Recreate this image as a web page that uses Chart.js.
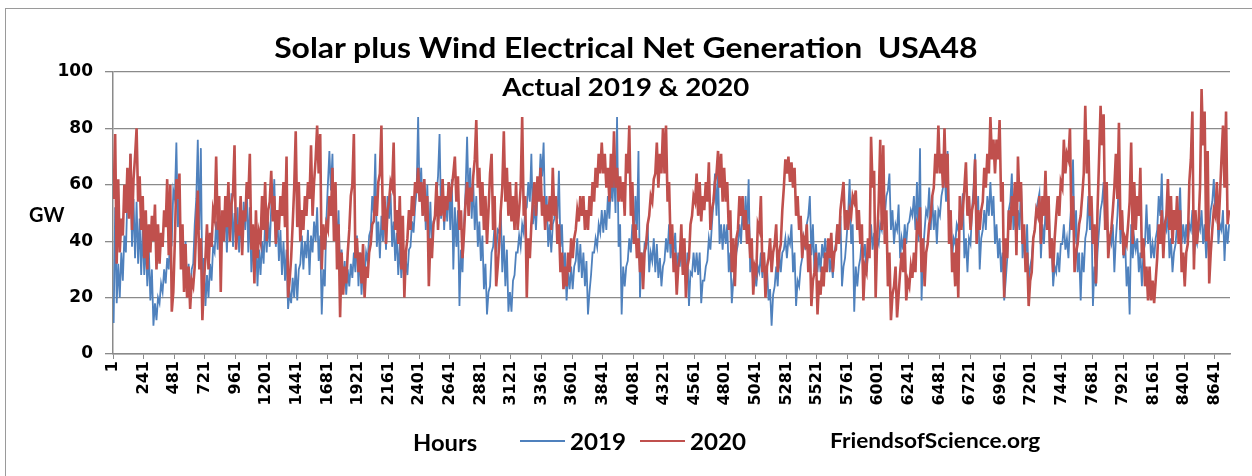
<!DOCTYPE html>
<html>
<head>
<meta charset="utf-8">
<script src="https://cdn.jsdelivr.net/npm/chart.js@4.4.1/dist/chart.umd.min.js"></script>
<style>
  body { margin: 0; background: #fff; }
  #wrap { position: relative; width: 1252px; height: 476px; overflow: hidden; color: #000;
          font-family: Lato, "Open Sans", sans-serif; font-weight: bold; }
  #frame { position: absolute; left: 5px; top: 8px; width: 1260px; height: 480px; border: 1.5px solid #9a9a9a; }
  #chart { position: absolute; left: 0; top: 0; }
  .txt { position: absolute; white-space: nowrap; line-height: 30px; height: 30px; transform-origin: left center; }
  .ctr { left: 0; width: 1252px; text-align: center; transform-origin: 627px center; }
  .swatch { position: absolute; height: 2px; width: 45px; }
</style>
</head>
<body>
<div id="wrap">
  <div id="frame"></div>
  <canvas id="chart" width="1252" height="476"></canvas>
  <div class="txt ctr" style="top:32px;font-size:28px;transform:scaleX(1.14);">Solar plus Wind Electrical Net Generation&nbsp; USA48</div>
  <div class="txt ctr" style="top:72px;font-size:24px;transform:scaleX(1.15);">Actual 2019 &amp; 2020</div>
  <div class="txt" style="left:29px;top:199px;font-size:20px;">GW</div>
  <div class="txt" style="left:413px;top:428px;font-size:22px;transform:scaleX(1.08);">Hours</div>
  <div class="swatch" style="left:520px;top:440px;background:#4f81bd;"></div>
  <div class="txt" style="left:570px;top:427px;font-size:22px;transform:scaleX(1.1);">2019</div>
  <div class="swatch" style="left:640px;top:440px;background:#c0504d;"></div>
  <div class="txt" style="left:690px;top:427px;font-size:22px;transform:scaleX(1.1);">2020</div>
  <div class="txt" style="left:830px;top:425px;font-size:21px;transform:scaleX(1.08);">FriendsofScience.org</div>
</div>
<script>
// daily low / high of hourly generation (GW), day 1 = hour 1
const startHour = 1;

const low2019 = [
  11, 18, 20, 26, 36, 50, 38, 34, 32, 28,
  28, 24, 19, 10, 12, 18, 22, 25, 30, 40,
  55, 45, 33, 24, 20, 19, 32, 55, 44, 20,
  17, 20, 26, 36, 37, 34, 40, 36, 40, 38,
  40, 36, 38, 44, 36, 29, 30, 24, 28, 32,
  36, 38, 50, 38, 33, 28, 26, 16, 18, 20,
  19, 32, 30, 34, 28, 36, 40, 33, 14, 24,
  60, 58, 44, 37, 28, 24, 21, 24, 27, 29,
  24, 21, 27, 33, 44, 50, 38, 34, 40, 37,
  48, 38, 33, 28, 27, 24, 28, 38, 43, 58,
  54, 49, 44, 39, 36, 48, 63, 48, 44, 47,
  44, 30, 38, 17, 29, 58, 54, 48, 44, 38,
  33, 23, 14, 24, 38, 36, 43, 29, 24, 15,
  15, 28, 36, 38, 43, 52, 54, 46, 44, 58,
  63, 48, 38, 36, 48, 48, 38, 28, 19, 23,
  23, 33, 29, 27, 24, 14, 28, 36, 38, 43,
  43, 44, 48, 54, 50, 38, 14, 24, 33, 36,
  39, 44, 20, 29, 38, 29, 33, 29, 27, 24,
  33, 36, 34, 36, 29, 31, 29, 24, 17, 28,
  29, 28, 18, 26, 33, 37, 54, 49, 39, 37,
  39, 29, 18, 29, 39, 39, 44, 44, 29, 24,
  24, 29, 27, 24, 19, 10, 24, 24, 29, 37,
  34, 39, 29, 17, 24, 34, 37, 49, 35, 29,
  29, 29, 34, 34, 29, 27, 39, 39, 24, 34,
  49, 39, 15, 24, 34, 34, 29, 39, 37, 34,
  39, 44, 49, 58, 44, 39, 44, 34, 37, 39,
  47, 49, 44, 40, 19, 44, 49, 44, 44, 39,
  49, 59, 54, 44, 34, 39, 44, 49, 34, 29,
  39, 59, 44, 30, 44, 44, 49, 49, 39, 34,
  29, 19, 34, 54, 44, 39, 44, 34, 34, 24,
  34, 44, 54, 34, 39, 44, 34, 24, 29, 29,
  39, 37, 34, 54, 39, 29, 19, 29, 44, 44,
  17, 24, 44, 54, 44, 37, 39, 29, 49, 39,
  34, 24, 14, 34, 37, 29, 24, 39, 39, 34,
  34, 44, 49, 39, 44, 34, 29, 39, 49, 39,
  39, 39, 44, 34, 39, 44, 39, 34, 44, 54,
  49, 39, 44, 33, 39
];
const high2019 = [
  52, 32, 36, 42, 56, 71, 55, 54, 48, 45,
  40, 37, 30, 18, 20, 25, 30, 34, 42, 58,
  75, 56, 44, 40, 32, 30, 46, 76, 73, 34,
  28, 32, 38, 47, 52, 48, 52, 50, 57, 50,
  52, 47, 54, 60, 52, 38, 42, 37, 40, 47,
  47, 52, 62, 50, 44, 40, 37, 22, 27, 32,
  30, 42, 40, 44, 42, 47, 52, 42, 30, 47,
  72, 71, 56, 51, 37, 33, 30, 32, 36, 42,
  36, 32, 36, 42, 56, 71, 47, 49, 52, 56,
  57, 47, 43, 39, 37, 33, 37, 47, 52, 84,
  66, 62, 60, 54, 47, 56, 78, 62, 56, 61,
  62, 52, 51, 37, 46, 77, 66, 61, 56, 47,
  42, 32, 22, 36, 46, 44, 51, 42, 37, 22,
  26, 36, 42, 46, 51, 61, 71, 53, 56, 71,
  75, 56, 46, 46, 56, 65, 46, 36, 29, 31,
  31, 41, 39, 36, 33, 22, 36, 41, 46, 51,
  51, 56, 61, 66, 84, 46, 31, 31, 41, 46,
  56, 72, 36, 39, 46, 36, 41, 39, 34, 31,
  41, 46, 41, 43, 36, 41, 39, 36, 29, 36,
  36, 36, 26, 31, 41, 46, 64, 65, 46, 46,
  46, 36, 26, 36, 46, 51, 56, 62, 36, 29,
  31, 36, 36, 31, 23, 21, 31, 36, 36, 41,
  41, 46, 36, 26, 31, 41, 46, 56, 46, 39,
  36, 39, 41, 39, 34, 36, 46, 49, 31, 41,
  62, 46, 31, 31, 41, 39, 36, 46, 43, 41,
  46, 51, 56, 64, 51, 46, 53, 41, 46, 46,
  51, 56, 61, 73, 36, 51, 59, 56, 51, 51,
  56, 66, 72, 51, 41, 46, 51, 57, 41, 41,
  51, 71, 56, 41, 51, 56, 61, 56, 46, 41,
  36, 26, 51, 64, 51, 51, 61, 41, 46, 31,
  41, 51, 57, 46, 51, 56, 41, 31, 36, 39,
  46, 41, 46, 69, 51, 36, 36, 41, 56, 51,
  31, 36, 51, 61, 51, 41, 46, 41, 63, 51,
  41, 31, 46, 41, 41, 36, 36, 53, 46, 39,
  41, 56, 64, 46, 51, 41, 36, 46, 59, 46,
  46, 46, 51, 41, 46, 51, 46, 41, 51, 62,
  56, 46, 51, 46, 46
];

const low2020 = [
  55, 32, 36, 42, 50, 48, 44, 70, 54, 44,
  34, 30, 36, 40, 30, 32, 38, 45, 35, 15,
  40, 55, 30, 22, 20, 16, 24, 45, 30, 12,
  34, 30, 38, 48, 44, 22, 40, 45, 40, 57,
  37, 42, 35, 47, 55, 37, 25, 34, 40, 44,
  40, 54, 47, 39, 44, 49, 45, 20, 34, 59,
  45, 40, 44, 49, 55, 49, 69, 64, 30, 37,
  44, 49, 40, 30, 13, 21, 25, 44, 60, 34,
  29, 25, 20, 27, 39, 47, 49, 64, 44, 39,
  54, 59, 44, 39, 30, 20, 41, 44, 49, 57,
  54, 49, 47, 24, 34, 49, 44, 49, 47, 51,
  54, 64, 54, 44, 34, 54, 49, 54, 69, 59,
  49, 44, 39, 64, 44, 24, 39, 59, 54, 49,
  47, 44, 44, 59, 49, 20, 34, 54, 49, 54,
  49, 44, 47, 44, 49, 39, 29, 23, 24, 29,
  34, 44, 47, 49, 44, 44, 49, 54, 59, 64,
  64, 59, 54, 59, 59, 54, 54, 49, 64, 49,
  39, 34, 29, 23, 39, 49, 54, 64, 59, 64,
  64, 54, 39, 29, 21, 34, 28, 20, 34, 49,
  54, 49, 47, 51, 54, 44, 54, 64, 59, 54,
  54, 44, 29, 24, 44, 49, 44, 39, 34, 21,
  29, 44, 29, 20, 34, 29, 39, 29, 39, 59,
  64, 61, 59, 49, 44, 34, 39, 29, 17, 29,
  14, 21, 24, 29, 34, 29, 37, 39, 56, 44,
  44, 49, 54, 44, 39, 19, 29, 34, 59, 20,
  54, 44, 39, 24, 12, 24, 13, 29, 29, 19,
  24, 27, 29, 44, 29, 24, 39, 49, 59, 64,
  64, 59, 59, 39, 29, 24, 20, 44, 59, 49,
  44, 54, 39, 44, 54, 59, 64, 69, 64, 69,
  54, 20, 34, 44, 49, 35, 54, 39, 29, 17,
  29, 44, 49, 39, 49, 44, 34, 29, 49, 49,
  59, 64, 69, 44, 29, 39, 49, 64, 64, 49,
  39, 25, 69, 74, 44, 34, 44, 59, 55, 44,
  35, 39, 54, 39, 44, 49, 34, 24, 19, 19,
  18, 34, 39, 34, 49, 44, 39, 44, 39, 29,
  24, 39, 69, 30, 39, 59, 74, 40, 25, 44,
  49, 44, 69, 59, 46
];
const high2020 = [
  78, 62, 48, 60, 66, 71, 62, 80, 63, 56,
  51, 46, 49, 53, 46, 43, 51, 62, 60, 22,
  62, 64, 46, 39, 31, 26, 31, 58, 41, 26,
  46, 43, 51, 70, 56, 51, 56, 61, 53, 74,
  46, 56, 51, 61, 71, 46, 51, 43, 56, 61,
  51, 65, 56, 51, 56, 61, 70, 26, 46, 79,
  61, 51, 56, 61, 74, 61, 81, 78, 46, 46,
  56, 66, 61, 46, 36, 31, 36, 56, 78, 41,
  36, 39, 31, 36, 46, 56, 61, 81, 56, 51,
  61, 75, 51, 56, 49, 36, 51, 56, 61, 66,
  61, 62, 56, 41, 46, 61, 56, 62, 56, 61,
  59, 70, 63, 51, 43, 61, 59, 63, 83, 66,
  61, 56, 51, 71, 56, 31, 51, 79, 66, 61,
  56, 61, 51, 84, 56, 41, 46, 61, 63, 66,
  56, 53, 56, 66, 56, 46, 36, 31, 36, 41,
  41, 51, 56, 56, 51, 56, 61, 66, 71, 75,
  71, 66, 71, 79, 66, 63, 61, 71, 81, 61,
  46, 41, 36, 36, 46, 56, 62, 75, 71, 80,
  81, 61, 46, 36, 31, 46, 41, 31, 46, 56,
  64, 61, 56, 61, 68, 51, 61, 72, 71, 66,
  61, 51, 41, 41, 56, 56, 51, 46, 41, 31,
  46, 56, 36, 31, 41, 36, 46, 36, 51, 69,
  70, 68, 66, 56, 49, 41, 46, 39, 26, 36,
  26, 31, 36, 41, 43, 36, 46, 51, 61, 51,
  51, 56, 58, 51, 46, 31, 41, 77, 65, 41,
  76, 74, 51, 36, 21, 31, 21, 36, 41, 26,
  31, 36, 46, 52, 41, 36, 46, 56, 71, 81,
  71, 80, 71, 51, 36, 41, 56, 51, 68, 56,
  51, 69, 51, 51, 66, 71, 84, 76, 76, 83,
  61, 41, 51, 56, 61, 70, 61, 46, 36, 26,
  41, 51, 56, 56, 65, 56, 41, 41, 56, 61,
  76, 71, 80, 56, 36, 46, 56, 88, 76, 56,
  46, 51, 88, 85, 61, 41, 51, 71, 82, 51,
  41, 46, 75, 61, 56, 66, 41, 31, 31, 26,
  26, 46, 51, 46, 62, 56, 51, 56, 51, 36,
  36, 61, 86, 51, 46, 94, 86, 72, 36, 51,
  61, 56, 81, 86, 51
];

const xTickLabels = [1, 241, 481, 721, 961, 1201, 1441, 1681, 1921, 2161, 2401, 2641, 2881,
  3121, 3361, 3601, 3841, 4081, 4321, 4561, 4801, 5041, 5281, 5521, 5761, 6001, 6241,
  6481, 6721, 6961, 7201, 7441, 7681, 7921, 8161, 8401, 8641];
const yTickLabels = [0, 20, 40, 60, 80, 100];

const BLUE = '#4f81bd';
const RED = '#c0504d';
const GRID = '#8a8a8a';

// each day: the low reading in the morning, the high reading in the afternoon
function dayPoints(lows, highs) {
  const pts = [];
  lows.forEach((lo, d) => {
    pts.push({ x: startHour + d * 24 + 4, y: lo });
    pts.push({ x: startHour + d * 24 + 16, y: highs[d] });
  });
  return pts;
}

const ctx = document.getElementById('chart');
new Chart(ctx, {
  type: 'line',
  data: {
    datasets: [
      { label: '2019', data: dayPoints(low2019, high2019), borderColor: BLUE, borderWidth: 1.8, pointRadius: 0, tension: 0, order: 2 },
      { label: '2020', data: dayPoints(low2020, high2020), borderColor: RED, borderWidth: 2.6, pointRadius: 0, tension: 0, order: 1 }
    ]
  },
  options: {
    responsive: false,
    animation: false,
    layout: { padding: { top: 72, right: 22, bottom: 0, left: 0 } },
    plugins: { legend: { display: false }, tooltip: { enabled: false } },
    scales: {
      x: {
        type: 'linear', min: 0, max: 8760,
        afterBuildTicks: (axis) => { axis.ticks = xTickLabels.map(v => ({ value: v })); },
        afterFit: (axis) => { axis.height = 122; },
        grid: { drawOnChartArea: false, drawTicks: true, tickLength: 5, color: GRID },
        border: { color: GRID, width: 1.5 },
        ticks: {
          minRotation: 90, maxRotation: 90, autoSkip: false, padding: 2, color: '#000',
          font: { family: 'DejaVu Sans', weight: 'bold', size: 16 },
          callback: (v) => String(v)
        }
      },
      y: {
        min: 0, max: 100,
        afterBuildTicks: (axis) => { axis.ticks = yTickLabels.map(v => ({ value: v })); },
        afterFit: (axis) => { axis.width = 113; },
        grid: { color: GRID, lineWidth: 1.3, tickLength: 8 },
        border: { color: GRID, width: 1.5 },
        ticks: { padding: 12, color: '#000', font: { family: 'DejaVu Sans', weight: 'bold', size: 17 } }
      }
    }
  }
});
</script>
</body>
</html>
